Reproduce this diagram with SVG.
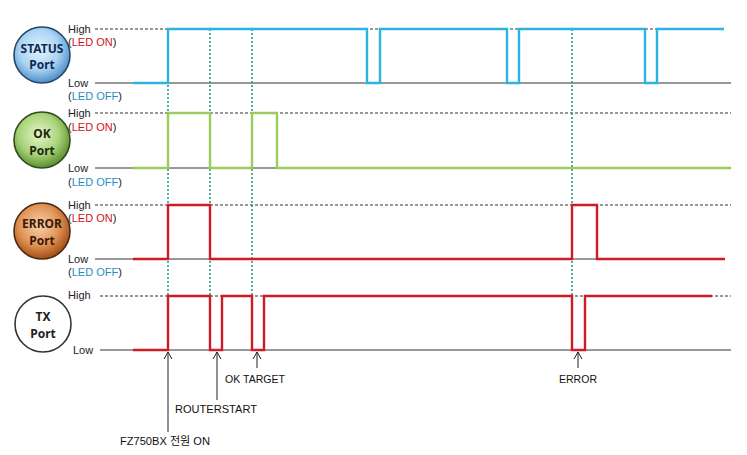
<svg xmlns="http://www.w3.org/2000/svg" width="747" height="455" viewBox="0 0 747 455">
<defs>
<radialGradient id="gBlue" cx="45%" cy="40%" r="60%"><stop offset="0" stop-color="#e4f3fd"/><stop offset="0.6" stop-color="#a9d3f3"/><stop offset="1" stop-color="#4d8fc9"/></radialGradient>
<radialGradient id="gGreen" cx="45%" cy="40%" r="60%"><stop offset="0" stop-color="#e6f4c9"/><stop offset="0.6" stop-color="#a9d37a"/><stop offset="1" stop-color="#5b8f2e"/></radialGradient>
<radialGradient id="gOrange" cx="45%" cy="40%" r="60%"><stop offset="0" stop-color="#f8d3b0"/><stop offset="0.6" stop-color="#e09355"/><stop offset="1" stop-color="#a34e16"/></radialGradient>
</defs>
<style>
.lbl{font-family:"Liberation Sans","Noto Sans",sans-serif;font-size:11px;fill:#222}
.red{fill:#d0121b}
.blu{fill:#1f8fc0}
.nm{font-family:"Noto Sans","Liberation Sans",sans-serif;font-weight:bold;text-anchor:middle;font-size:12px}
.hi{stroke:#333;stroke-width:1;stroke-dasharray:3,2;fill:none}
.lo{stroke:#333;stroke-width:1;fill:none}
.vd{stroke:#2a9a78;stroke-width:1.6;stroke-dasharray:2,2;fill:none}
.sig{fill:none;stroke-width:2.4;stroke-linejoin:miter}
.bt{font-family:"Liberation Sans","Noto Sans CJK KR",sans-serif;font-size:11px;fill:#111}
.ar{stroke:#222;stroke-width:1;fill:none}
</style>
<rect width="747" height="455" fill="#fff"/>

<g id="node-status">
<circle cx="42" cy="55" r="28" fill="url(#gBlue)" stroke="#24476a" stroke-width="1.6"/>
<text class="nm" x="42" y="53" fill="#0e2a52">STATUS</text>
<text class="nm" x="42" y="69" font-size="11" fill="#0e2a52">Port</text>
<text class="lbl" x="68" y="33">High</text>
<text class="lbl" x="68" y="46">(<tspan class="red">LED ON</tspan>)</text>
<text class="lbl" x="68" y="87">Low</text>
<text class="lbl" x="68" y="100">(<tspan class="blu">LED OFF</tspan>)</text>
</g>
<g id="node-ok">
<circle cx="42" cy="140" r="28" fill="url(#gGreen)" stroke="#2f4a1e" stroke-width="1.6"/>
<text class="nm" x="42" y="138" fill="#1c2a10">OK</text>
<text class="nm" x="42" y="155" fill="#1c2a10">Port</text>
<text class="lbl" x="68" y="117">High</text>
<text class="lbl" x="68" y="131">(<tspan class="red">LED ON</tspan>)</text>
<text class="lbl" x="68" y="172">Low</text>
<text class="lbl" x="68" y="186">(<tspan class="blu">LED OFF</tspan>)</text>
</g>
<g id="node-error">
<circle cx="42" cy="231" r="28" fill="url(#gOrange)" stroke="#4a2a14" stroke-width="1.6"/>
<text class="nm" x="42" y="228" fill="#3a1a08">ERROR</text>
<text class="nm" x="42" y="245" fill="#3a1a08">Port</text>
<text class="lbl" x="68" y="209">High</text>
<text class="lbl" x="68" y="222">(<tspan class="red">LED ON</tspan>)</text>
<text class="lbl" x="68" y="263">Low</text>
<text class="lbl" x="68" y="276">(<tspan class="blu">LED OFF</tspan>)</text>
</g>
<g id="node-tx">
<circle cx="43" cy="324" r="28" fill="#fff" stroke="#333" stroke-width="1.6"/>
<text class="nm" x="43" y="321" fill="#222">TX</text>
<text class="nm" x="43" y="338" fill="#222">Port</text>
<text class="lbl" x="68" y="299">High</text>
<text class="lbl" x="73" y="354">Low</text>
</g>

<g id="connectors">
<path class="hi" d="M95,29 H725 M95,113 H731 M95,205 H731 M100,296 H731"/>
<path class="lo" d="M95,83 H731 M95,168 H731 M95,259 H725 M100,350 H731"/>
<path class="vd" d="M168,29 V296 M210,29 V296 M252,29 V296 M572,29 V296"/>
<path class="sig" stroke="#2bb3e2" d="M133,83 H168 V29 H367 V83 H380 V29 H507 V83 H519 V29 H645 V83 H657 V29 H724"/>
<path class="sig" stroke="#9ccc5c" d="M133,168 H168 V113 H210 V168 H252 V113 H277 V168 H731"/>
<path class="sig" stroke="#cf1b25" d="M133,259 H168 V205 H210 V259 H572 V205 H597 V259 H725"/>
<path class="sig" stroke="#cf1b25" d="M133,350 H168 V296 H210 V350 H222 V296 H252 V350 H264 V296 H572 V350 H585 V296 H712"/>
<path class="ar" d="M168,432 V352 M164,359 L168,352 L172,359"/>
<path class="ar" d="M217,400 V352 M213,359 L217,352 L221,359"/>
<path class="ar" d="M257,368 V352 M253,359 L257,352 L261,359"/>
<path class="ar" d="M578,368 V352 M574,359 L578,352 L582,359"/>
</g>
<g id="labels">
<text class="bt" x="120" y="445" textLength="90" lengthAdjust="spacingAndGlyphs">FZ750BX 전원 ON</text>
<text class="bt" x="175" y="413" textLength="82" lengthAdjust="spacingAndGlyphs">ROUTERSTART</text>
<text class="bt" x="225" y="383" textLength="60" lengthAdjust="spacingAndGlyphs">OK TARGET</text>
<text class="bt" x="559" y="383" textLength="38" lengthAdjust="spacingAndGlyphs">ERROR</text>
</g>
</svg>
